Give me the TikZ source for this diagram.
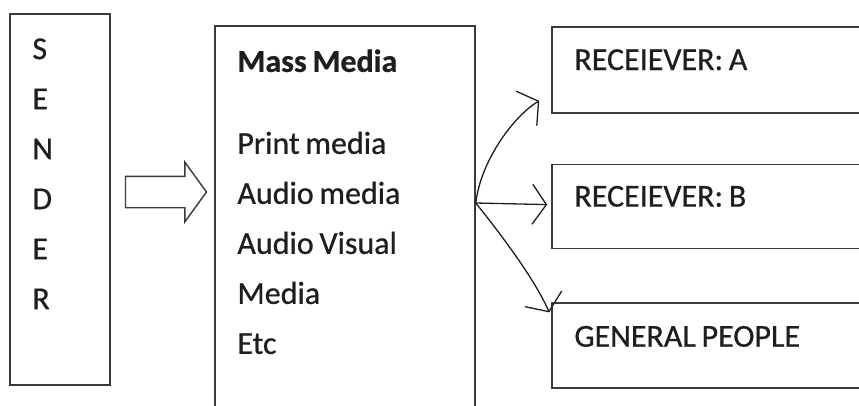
\documentclass[tikz,border=0pt]{standalone}
\usepackage{fontspec}
\setmainfont{Carlito}[FakeBold=0.6, WordSpace=0.8]
\usetikzlibrary{shapes.arrows, arrows.meta, positioning, calc}
\definecolor{ink}{HTML}{1E1E1E}
\definecolor{edgegray}{HTML}{3A3A3A}
\tikzset{
  sbox/.style ={rectangle, draw=edgegray, line width=1.6pt, fill=white, inner sep=0pt},
  txt/.style  ={font=\fontsize{32}{50}\selectfont, text=ink, inner sep=0pt, align=left},
  pusharr/.style={single arrow, draw=edgegray, line width=1.4pt, fill=white, inner xsep=0pt, inner ysep=15pt,
                minimum height=81pt, single arrow head extend=14pt, single arrow tip angle=108},
  hand/.style ={draw=ink, line width=1.3pt, line cap=round, line join=round,
                -{Straight Barb[length=14pt, width=40pt, line width=1.3pt]}},
}
\begin{document}
\begin{tikzpicture}[x=1pt, y=-1pt]
  \useasboundingbox (0,0) rectangle (859,405);
  \clip (0,0) rectangle (859,405);
  % sender column
  \node[sbox, minimum width=100pt, minimum height=371pt] (snd) at (60,199.5) {};
  \node[txt, anchor=north west] (sndtxt) at ([xshift=23pt, yshift=-25pt]snd.north west) {S\\E\\N\\D\\E\\R};
  % channel box
  \node[sbox, minimum width=260pt, minimum height=404pt] (mm) at (345,228) {};
  \node[txt, anchor=north west] (mmtxt) at ([xshift=23pt, yshift=-24pt]mm.north west)
    {\textbf{Mass Media}\\[32pt]Print media\\Audio media\\Audio Visual\\Media\\Etc};
  \node[pusharr, right=14pt of snd.east, yshift=7.5pt, anchor=west] (push) {};
  % receivers
  \node[sbox, minimum width=330pt, minimum height=86pt] (r1) at (717,70) {};
  \node[sbox, minimum width=330pt, minimum height=84pt, below=50pt of r1] (r2) {};
  \node[sbox, minimum width=330pt, minimum height=85pt, below=53pt of r2] (r3) {};
  \node[txt, anchor=base west] (r1txt) at ([xshift=23pt]r1.west) {RECEIEVER: A};
  \node[txt, anchor=base west] (r2txt) at ([xshift=23pt]r2.west) {RECEIEVER: B};
  \node[txt, anchor=base west] (r3txt) at ([xshift=23pt, yshift=-1pt]r3.west) {GENERAL PEOPLE};
  % fan out from the channel
  \coordinate (fan) at ([yshift=25pt]mm.east);
  \draw[hand] (fan) .. controls +(5,-43) and +(-25,15) .. ([xshift=-12pt, yshift=13pt]r1.south west);
  \draw[hand] (fan) -- ([xshift=-4pt, yshift=2pt]r2.west);
  \draw[hand] (fan) .. controls +(20,25) and +(-15,-35) .. ([xshift=-2pt, yshift=-10pt]r3.north west);
\end{tikzpicture}
\end{document}
